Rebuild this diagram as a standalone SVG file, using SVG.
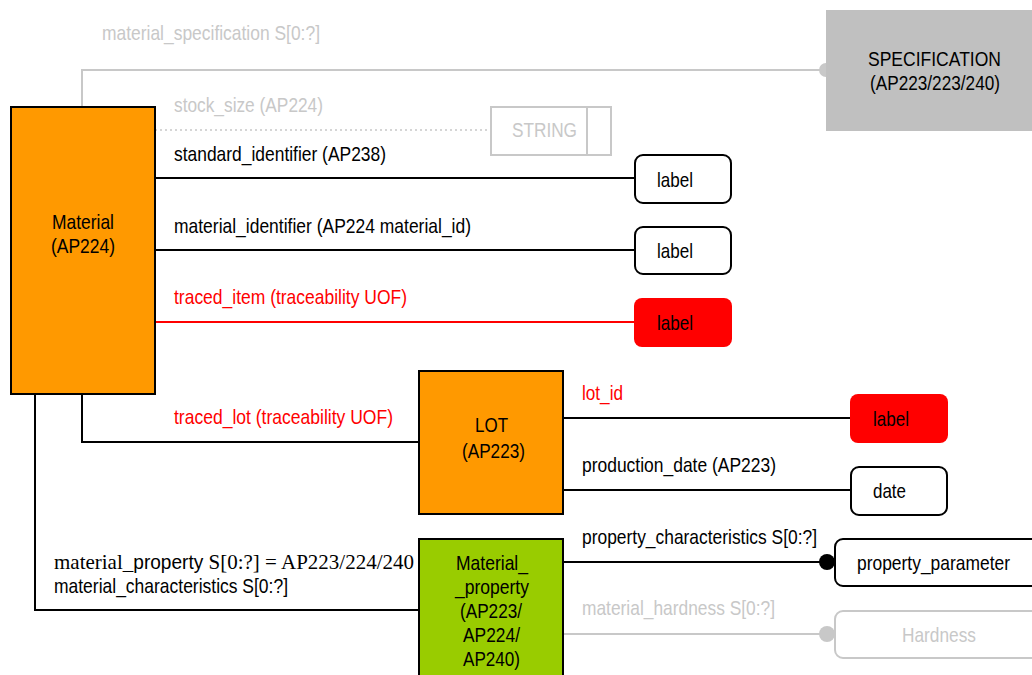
<svg xmlns="http://www.w3.org/2000/svg" width="1032" height="675" viewBox="0 0 1032 675">
<style>
text{font-family:"Liberation Sans",Arial,sans-serif;font-size:21px;fill:#000}
.g{fill:#c8c8c8}
.r{fill:#ff0000}
.tm{font-family:"Liberation Serif","Times New Roman",serif;font-size:22px}
.ln{fill:none;stroke:#000;stroke-width:2}
.lg{fill:none;stroke:#c8c8c8;stroke-width:2}
.lr{fill:none;stroke:#ff0000;stroke-width:2}
.ent{stroke:#000;stroke-width:2}
.box{fill:#fff;stroke:#000;stroke-width:2}
</style>
<rect width="1032" height="675" fill="#fff"/>
<g id="connectors">
<path class="lg" d="M82,107 V70 H822"/>
<circle cx="826" cy="70" r="7" fill="#c8c8c8"/>
<path d="M155,130 H491" fill="none" stroke="#c8c8c8" stroke-width="1.5" stroke-dasharray="2,3"/>
<path class="ln" d="M155,178 H635"/>
<path class="ln" d="M155,250 H635"/>
<path class="lr" d="M155,322 H635"/>
<path class="ln" d="M82,394 V442 H419"/>
<path class="ln" d="M35,394 V610 H419"/>
<path class="ln" d="M563,418 H851"/>
<path class="ln" d="M563,490 H851"/>
<path class="ln" d="M563,562 H826"/>
<circle cx="827" cy="562" r="8" fill="#000"/>
<path class="lg" d="M563,634 H826"/>
<circle cx="827" cy="634" r="8" fill="#c8c8c8"/>
<text class="g" x="102" y="40" textLength="218" lengthAdjust="spacingAndGlyphs">material_specification S[0:?]</text>
<text class="g" x="174" y="112" textLength="149" lengthAdjust="spacingAndGlyphs">stock_size (AP224)</text>
<text x="174" y="161" textLength="212" lengthAdjust="spacingAndGlyphs">standard_identifier (AP238)</text>
<text x="174" y="233" textLength="297" lengthAdjust="spacingAndGlyphs">material_identifier (AP224 material_id)</text>
<text class="r" x="174" y="304" textLength="233" lengthAdjust="spacingAndGlyphs">traced_item (traceability UOF)</text>
<text class="r" x="174" y="424" textLength="219" lengthAdjust="spacingAndGlyphs">traced_lot (traceability UOF)</text>
<text x="54" y="569" textLength="360" lengthAdjust="spacingAndGlyphs"><tspan class="tm" font-size="20">material_</tspan><tspan font-size="20">property</tspan><tspan class="tm"> S[0:?] = AP223/224/240</tspan></text>
<text x="54" y="593" textLength="234" lengthAdjust="spacingAndGlyphs">material_characteristics S[0:?]</text>
<text class="r" x="582" y="400" textLength="41" lengthAdjust="spacingAndGlyphs">lot_id</text>
<text x="582" y="472" textLength="194" lengthAdjust="spacingAndGlyphs">production_date (AP223)</text>
<text x="582" y="544" textLength="235" lengthAdjust="spacingAndGlyphs">property_characteristics S[0:?]</text>
<text class="g" x="582" y="615" textLength="193" lengthAdjust="spacingAndGlyphs">material_hardness S[0:?]</text>
</g>
<g id="material">
<rect class="ent" x="11" y="107" width="144" height="287" fill="#ff9900"/>
<text x="52" y="229" textLength="62" lengthAdjust="spacingAndGlyphs">Material</text>
<text x="51" y="253" textLength="64" lengthAdjust="spacingAndGlyphs">(AP224)</text>
</g>
<g id="specification">
<rect x="826" y="10" width="206" height="121" fill="#c0c0c0"/>
<text x="868" y="66" textLength="133" lengthAdjust="spacingAndGlyphs">SPECIFICATION</text>
<text x="870" y="90" textLength="130" lengthAdjust="spacingAndGlyphs">(AP223/223/240)</text>
</g>
<g id="string">
<rect x="491" y="107" width="120" height="48" fill="#fff" stroke="#c8c8c8" stroke-width="2"/>
<line x1="587" y1="107" x2="587" y2="155" stroke="#c8c8c8" stroke-width="2"/>
<text class="g" x="512" y="137" textLength="65" lengthAdjust="spacingAndGlyphs">STRING</text>
</g>
<g id="label1">
<rect class="box" x="635" y="155" width="96" height="48" rx="8"/>
<text x="657" y="187" textLength="36" lengthAdjust="spacingAndGlyphs">label</text>
</g>
<g id="label2">
<rect class="box" x="635" y="227" width="96" height="47" rx="8"/>
<text x="657" y="258" textLength="36" lengthAdjust="spacingAndGlyphs">label</text>
</g>
<g id="label3">
<rect x="634" y="298" width="98" height="49" rx="8" fill="#ff0000"/>
<text x="657" y="330" textLength="36" lengthAdjust="spacingAndGlyphs">label</text>
</g>
<g id="lot">
<rect class="ent" x="419" y="371" width="144" height="143" fill="#ff9900"/>
<text x="475" y="432" textLength="33" lengthAdjust="spacingAndGlyphs">LOT</text>
<text x="462" y="458" textLength="63" lengthAdjust="spacingAndGlyphs">(AP223)</text>
</g>
<g id="label4">
<rect x="850" y="394" width="98" height="49" rx="8" fill="#ff0000"/>
<text x="873" y="426" textLength="36" lengthAdjust="spacingAndGlyphs">label</text>
</g>
<g id="date">
<rect class="box" x="851" y="467" width="96" height="48" rx="8"/>
<text x="873" y="498" textLength="33" lengthAdjust="spacingAndGlyphs">date</text>
</g>
<g id="material_property">
<rect class="ent" x="419" y="539" width="144" height="140" fill="#99cc00"/>
<text x="456" y="570" textLength="72" lengthAdjust="spacingAndGlyphs">Material_</text>
<text x="455" y="594" textLength="74" lengthAdjust="spacingAndGlyphs">_property</text>
<text x="460" y="618" textLength="62" lengthAdjust="spacingAndGlyphs">(AP223/</text>
<text x="463" y="642" textLength="57" lengthAdjust="spacingAndGlyphs">AP224/</text>
<text x="463" y="666" textLength="57" lengthAdjust="spacingAndGlyphs">AP240)</text>
</g>
<g id="property_parameter">
<rect class="box" x="835" y="539" width="210" height="47" rx="8"/>
<text x="857" y="570" textLength="153" lengthAdjust="spacingAndGlyphs">property_parameter</text>
</g>
<g id="hardness">
<rect x="835" y="611" width="210" height="47" rx="8" fill="#fff" stroke="#c8c8c8" stroke-width="2"/>
<text class="g" x="902" y="642" textLength="74" lengthAdjust="spacingAndGlyphs">Hardness</text>
</g>
</svg>
